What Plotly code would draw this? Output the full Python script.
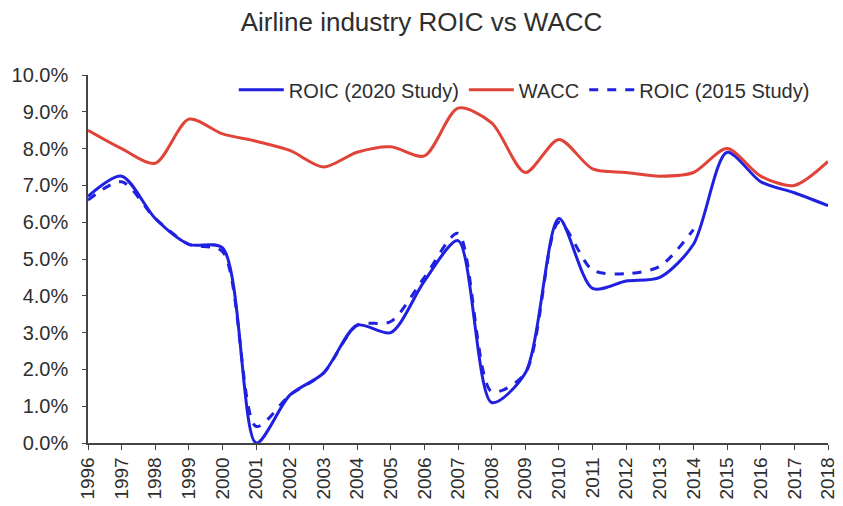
import plotly.graph_objects as go

years = list(range(1996, 2019))
wacc = [8.5, 8.0, 7.6, 8.8, 8.4, 8.2, 7.95, 7.5, 7.9, 8.05, 7.8, 9.1, 8.7, 7.35, 8.25,
        7.45, 7.35, 7.25, 7.35, 8.0, 7.25, 7.0, 7.65]
roic_2020 = [6.7, 7.25, 6.1, 5.4, 5.3, 0.0, 1.3, 1.9, 3.2, 3.0, 4.4, 5.5, 1.1, 1.9, 6.1,
             4.2, 4.4, 4.5, 5.4, 7.9, 7.1, 6.8, 6.45]
years_2015 = list(range(1996, 2015))
roic_2015 = [6.6, 7.1, 6.1, 5.4, 5.2, 0.45, 1.3, 1.9, 3.2, 3.3, 4.5, 5.7, 1.4, 1.9, 6.0,
             4.7, 4.6, 4.8, 5.8]
y_ticks = [i / 100 for i in range(0, 11)]

BLUE = "#2020e0"
RED = "#e04438"
FONT = "Liberation Sans, Arial, sans-serif"
TXT = "#2e2e2e"

fig = go.Figure()
fig.add_trace(go.Scatter(x=years, y=[v / 100 for v in roic_2020], name="ROIC (2020 Study)",
                         mode="lines", line=dict(color=BLUE, width=3, shape="spline", smoothing=0.8)))
fig.add_trace(go.Scatter(x=years, y=[v / 100 for v in wacc], name="WACC",
                         mode="lines", line=dict(color=RED, width=3, shape="spline", smoothing=0.8)))
fig.add_trace(go.Scatter(x=years_2015, y=[v / 100 for v in roic_2015], name="ROIC (2015 Study)",
                         mode="lines", line=dict(color=BLUE, width=3, dash="dash", shape="spline", smoothing=0.8)))

fig.update_layout(
    width=843, height=506,
    margin=dict(l=88, r=15, t=75, b=63),
    paper_bgcolor="white", plot_bgcolor="white",
    font=dict(family=FONT, size=17, color=TXT),
    title=dict(text="Airline industry ROIC vs WACC", x=0.5, xanchor="center", y=0.957, yanchor="middle",
               font=dict(size=26, color=TXT, family=FONT)),
    showlegend=True,
    legend=dict(orientation="h", x=0.197, xanchor="left", y=0.96, yanchor="middle",
                font=dict(size=20, color=TXT, family=FONT), bgcolor="rgba(0,0,0,0)",
                itemwidth=45, tracegroupgap=0),
    xaxis=dict(range=[1996, 2018], tickmode="array", tickvals=years, ticktext=[str(y) for y in years],
               tickangle=-90, showgrid=False, zeroline=False, showline=True, linecolor="#444444",
               linewidth=1.5, ticks="outside", ticklen=5, tickcolor="#444444", automargin=False,
               tickfont=dict(size=19, color=TXT, family=FONT)),
    yaxis=dict(range=[0, 0.1], tickmode="array", tickvals=y_ticks, tickformat=".1%",
               showgrid=False, zeroline=False, showline=True, linecolor="#444444", linewidth=1.5,
               ticks="outside", ticklen=4, tickcolor="#444444", automargin=False,
               ticklabelstandoff=10,
               tickfont=dict(size=20, color=TXT, family=FONT)),
)

fig.write_html("out.html")
